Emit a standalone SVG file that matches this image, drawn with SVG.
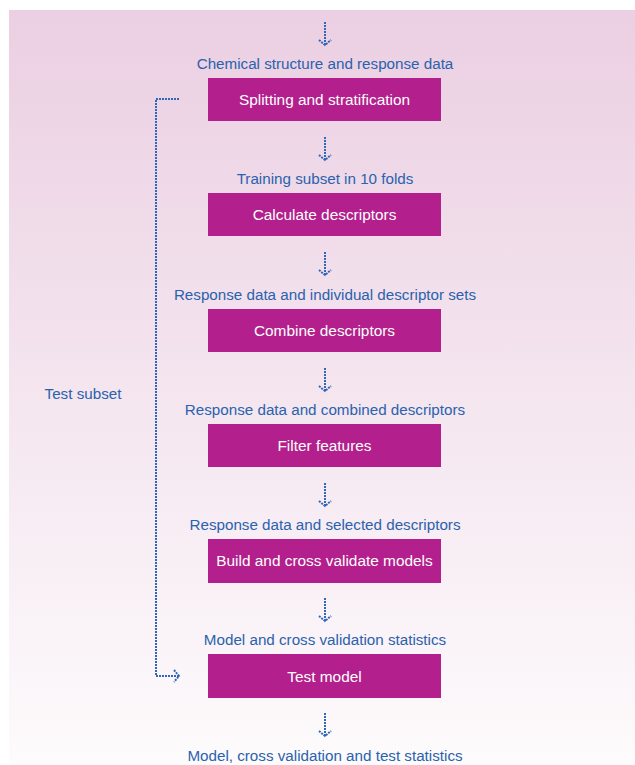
<svg xmlns="http://www.w3.org/2000/svg" width="635" height="765" viewBox="0 0 635 765">
<defs>
<linearGradient id="bg" x1="0" y1="0" x2="0" y2="1">
<stop offset="0" stop-color="#ebcfe2"/>
<stop offset="1" stop-color="#fdfbfc"/>
</linearGradient>
<style>
.box{fill:#b31f8c}
.bt{font-family:"Liberation Sans",Arial,sans-serif;font-size:15.4px;fill:#ffffff;text-anchor:middle}
.lb{font-family:"Liberation Sans",Arial,sans-serif;font-size:15.2px;fill:#2a62ad;text-anchor:middle}
.dot{fill:none;stroke:#2f68b8;stroke-width:2;stroke-dasharray:2 1}
</style>
</defs>
<rect x="9" y="10" width="626" height="755" fill="url(#bg)"/>
<g id="connectors">
<path class="dot" d="M325 22V45M319 40l6 5 6-5"/>
<path class="dot" d="M325 137V160M319 155l6 5 6-5"/>
<path class="dot" d="M325 252V275M319 270l6 5 6-5"/>
<path class="dot" d="M325 368V391M319 386l6 5 6-5"/>
<path class="dot" d="M325 483V506M319 501l6 5 6-5"/>
<path class="dot" d="M325 598V621M319 616l6 5 6-5"/>
<path class="dot" d="M325 713V736M319 731l6 5 6-5"/>
<path class="dot" d="M179 99H156V676H179M174 670l5 6-5 6"/>
</g>
<g id="label0"><text class="lb" x="325" y="69">Chemical structure and response data</text></g>
<g id="n1"><rect class="box" x="208" y="78" width="233" height="43"/><text class="bt" x="324.5" y="104.5">Splitting and stratification</text></g>
<g id="label1"><text class="lb" x="325" y="184">Training subset in 10 folds</text></g>
<g id="n2"><rect class="box" x="208" y="193" width="233" height="43"/><text class="bt" x="324.5" y="219.5">Calculate descriptors</text></g>
<g id="label2"><text class="lb" x="325" y="300">Response data and individual descriptor sets</text></g>
<g id="n3"><rect class="box" x="208" y="309" width="233" height="43"/><text class="bt" x="324.5" y="335.5">Combine descriptors</text></g>
<g id="label3"><text class="lb" x="325" y="415">Response data and combined descriptors</text></g>
<g id="n4"><rect class="box" x="208" y="424" width="233" height="43"/><text class="bt" x="324.5" y="450.5">Filter features</text></g>
<g id="label4"><text class="lb" x="325" y="530">Response data and selected descriptors</text></g>
<g id="n5"><rect class="box" x="208" y="539" width="233" height="44"/><text class="bt" x="324.5" y="566">Build and cross validate models</text></g>
<g id="label5"><text class="lb" x="325" y="645">Model and cross validation statistics</text></g>
<g id="n6"><rect class="box" x="208" y="654" width="233" height="44"/><text class="bt" x="324.5" y="681.5">Test model</text></g>
<g id="label6"><text class="lb" x="325" y="761">Model, cross validation and test statistics</text></g>
<g id="test"><text class="lb" x="83" y="399">Test subset</text></g>
</svg>
